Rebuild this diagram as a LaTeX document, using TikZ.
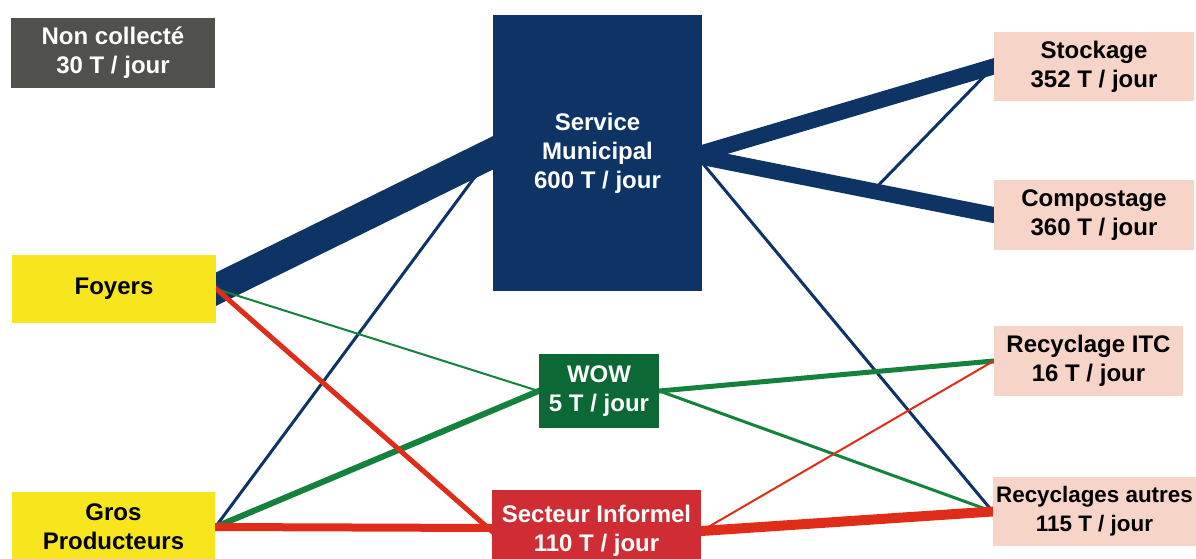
\documentclass[tikz,border=0pt]{standalone}
\usepackage{fontspec}
\setmainfont{Liberation Sans}
\usepackage{xcolor}
\usepackage{tikz}
\usetikzlibrary{calc, backgrounds}
\definecolor{mynavy}{RGB}{14,51,101}
\definecolor{mygrey}{RGB}{80,80,76}
\definecolor{myyellow}{RGB}{247,229,30}
\definecolor{mygreen}{RGB}{12,104,52}
\definecolor{flowgreen}{RGB}{20,130,60}
\definecolor{myred}{RGB}{207,44,52}
\definecolor{flowred}{RGB}{224,45,25}
\definecolor{mypink}{RGB}{246,212,200}
\tikzset{
  box/.style={rectangle, inner sep=0pt, align=center,
    font=\fontsize{12}{14.5}\selectfont\bfseries},
  greybox/.style={box, fill=mygrey, text=white},
  yellowbox/.style={box, fill=myyellow, text=black},
  navybox/.style={box, fill=mynavy, text=white},
  greenbox/.style={box, fill=mygreen, text=white},
  redbox/.style={box, fill=myred, text=white},
  pinkbox/.style={box, fill=mypink, text=black},
  navyflow/.style={draw=mynavy, shorten <=-6pt, shorten >=-6pt},
  greenflow/.style={draw=flowgreen, shorten <=-6pt, shorten >=-6pt},
  redflow/.style={draw=flowred, shorten <=-6pt, shorten >=-6pt}
}
\begin{document}
\begin{tikzpicture}[x=0.5pt, y=-0.5pt]
  \clip (0,0) rectangle (1196,558);
  \node[greybox, minimum width=102pt, minimum height=35pt] (nonc) at (113,53) {Non collecté\\30 T / jour};
  \node[yellowbox, minimum width=102pt, minimum height=34pt] (foyers) at (114,289) {Foyers};
  \node[yellowbox, minimum width=101.5pt, minimum height=35pt] (gros) at (113.5,527) {Gros\\Producteurs};
  \node[navybox, minimum width=104.5pt, minimum height=138pt] (sm) at (597.5,153) {Service\\Municipal\\600 T / jour};
  \node[greenbox, minimum width=60pt, minimum height=37pt] (wow) at (599,391) {WOW\\5 T / jour};
  \node[redbox, minimum width=104.5pt, minimum height=41pt] (si) at (596.5,531) {Secteur Informel\\110 T / jour};
  \node[pinkbox, minimum width=100pt, minimum height=34.5pt] (stock) at (1094,66.5) {Stockage\\352 T / jour};
  \node[pinkbox, minimum width=100pt, minimum height=35pt] (comp) at (1094,215) {Compostage\\360 T / jour};
  \node[pinkbox, minimum width=94.5pt, minimum height=35pt] (itc) at (1088.5,361) {Recyclage ITC\\16 T / jour};
  \node[pinkbox, minimum width=101.5pt, minimum height=34.5pt,
    font=\fontsize{11.2}{14.5}\selectfont\bfseries] (autres) at (1094.5,511.5) {Recyclages autres\\115 T / jour};
  \begin{pgfonlayer}{background}
    \draw[navyflow, line width=15pt] (foyers.east) -- (sm.west);
    \draw[navyflow, line width=1.5pt] (gros.east) -- (sm.west);
    \draw[navyflow, line width=8pt] (sm.east) -- (stock.west);
    \draw[navyflow, line width=8pt] ([yshift=-2pt]sm.east) -- (comp.west);
    \coordinate (split) at ($(sm.east)!0.59!(comp.west)$);
    \draw[navyflow, line width=1.5pt, shorten <=0pt] (split) -- (stock.west);
    \draw[navyflow, line width=1.5pt] ([yshift=-5pt]sm.east) -- (autres.west);
    \draw[greenflow, line width=1pt] (foyers.east) -- (wow.west);
    \draw[greenflow, line width=3pt] (gros.east) -- (wow.west);
    \draw[greenflow, line width=2.5pt] (wow.east) -- (itc.west);
    \draw[greenflow, line width=1.5pt] (wow.east) -- (autres.west);
    \draw[redflow, line width=2.5pt] (foyers.east) -- (si.west);
    \draw[redflow, line width=4pt] (gros.east) -- ([yshift=1.5pt]si.west);
    \draw[redflow, line width=1pt] (si.east) -- (itc.west);
    \draw[redflow, line width=5pt] (si.east) -- (autres.west);
  \end{pgfonlayer}
\end{tikzpicture}
\end{document}
